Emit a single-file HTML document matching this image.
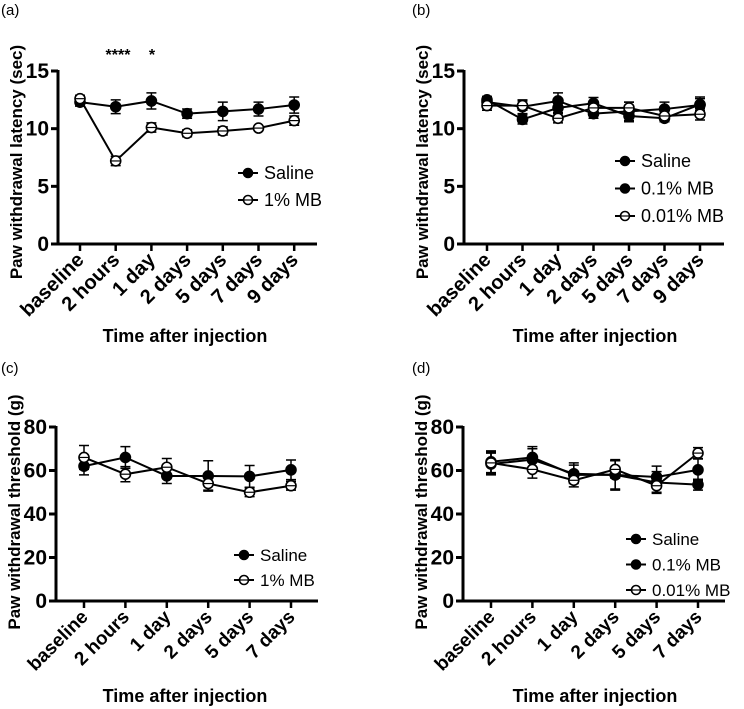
<!DOCTYPE html>
<html><head><meta charset="utf-8"><style>
body{margin:0;background:#fff}
svg{display:block;font-family:"Liberation Sans",Arial,sans-serif}
</style></head><body>
<svg id="fig" width="744" height="709" viewBox="0 0 744 709"></svg>
<script>
const catsA = ["baseline","2 hours","1 day","2 days","5 days","7 days","9 days"];
const catsC = ["baseline","2 hours","1 day","2 days","5 days","7 days"];
const yTicksA = [0,5,10,15];
const yTicksC = [0,20,40,60,80];
const aSaline = [12.3,11.9,12.4,11.3,11.5,11.7,12.05];
const aSalineErr = [0.35,0.6,0.7,0.4,0.8,0.6,0.7];
const aMB1 = [12.6,7.2,10.1,9.6,9.8,10.05,10.7];
const aMB1Err = [0.3,0.4,0.4,0.3,0.35,0.2,0.4];
const bSaline = [12.3,11.9,12.4,11.3,11.5,11.7,12.05];
const bSalineErr = [0.35,0.6,0.7,0.4,0.8,0.6,0.7];
const bMB01 = [12.5,10.8,11.8,12.2,11.1,10.9,12.1];
const bMB01Err = [0.3,0.4,0.4,0.5,0.5,0.3,0.5];
const bMB001 = [12.0,12.0,10.9,11.8,11.8,11.1,11.25];
const bMB001Err = [0.4,0.4,0.4,0.5,0.5,0.4,0.5];
const cSaline = [62,66,57.5,57.5,57.3,60.3];
const cSalineErr = [4,5,3.5,7,5,4.5];
const cMB1 = [66,58.3,61.5,54,50,53];
const cMB1Err = [5.5,3.5,4,3,2,2];
const dSaline = [64,66,58,58,57,60.3];
const dSalineErr = [5,5,5.5,6.5,5,5];
const dMB01 = [63,65,58.5,58,54.5,53.5];
const dMB01Err = [5,5,4,7,5,2.5];
const dMB001 = [63.5,60.5,55.5,60.5,53,68];
const dMB001Err = [5,4,1.5,4,3,2.5];

const NS="http://www.w3.org/2000/svg";
const svg=document.getElementById('fig');
function el(tag,attrs,parent){const e=document.createElementNS(NS,tag);for(const k in attrs)e.setAttribute(k,attrs[k]);(parent||svg).appendChild(e);return e;}

function panel(p){
  const g=el('g',{});
  
  
  const y=v=>p.y0+(v-p.ymin)/(p.ymax-p.ymin)*(p.y1-p.y0);
  const x=i=>p.xs0+i*p.dx;
  const ax=el('path',{d:`M${p.ax} ${p.y1-1}V${p.y0}H${p.axEnd}`,stroke:'#000','stroke-width':3,fill:'none'},g);
  
  
  p.yticks.forEach(t=>{
    el('line',{x1:p.ax-7,x2:p.ax,y1:y(t),y2:y(t),stroke:'#000','stroke-width':3},g);
    const tx=el('text',{x:p.ax-9,y:y(t)+7,'text-anchor':'end','font-size':21,'font-weight':'bold'},g);
    tx.textContent=t;
    
    
  });
  p.cats.forEach((c,i)=>{
    el('line',{x1:x(i),x2:x(i),y1:p.y0,y2:p.y0+7,stroke:'#000','stroke-width':2.5},g);
    const tx=el('text',{x:0,y:0,'text-anchor':'end','font-size':p.fs,'font-weight':'bold',transform:`translate(${x(i)+5},${p.y0+17}) rotate(-45)`},g);
    tx.textContent=c;
    
    
  });
  const yt=el('text',{x:0,y:0,'text-anchor':'middle','font-size':p.yfs,'font-weight':'bold',transform:`translate(${p.ytx},${p.ytY}) rotate(-90)`},g);
  yt.textContent=p.ytitle;
  
  
  const xt=el('text',{x:p.xtX,y:p.xtY,'text-anchor':'middle','font-size':18,'font-weight':'bold'},g);
  xt.textContent='Time after injection';
  
  
  const lab=el('text',{x:p.labX,y:p.labY,'font-size':15},g);
  lab.textContent=p.label;
  
  
  p.series.forEach((s,si)=>{
    const sg=el('g',{},g);
    
    
    const pts=s.vals.map((v,i)=>`${x(i)},${y(v)}`).join(' ');
    el('polyline',{points:pts,fill:'none',stroke:'#000','stroke-width':2},sg);
    s.vals.forEach((v,i)=>{
      const e=s.err[i];
      el('path',{d:`M${x(i)} ${y(v-e)}V${y(v+e)}M${x(i)-5} ${y(v+e)}h10M${x(i)-5} ${y(v-e)}h10`,stroke:'#000','stroke-width':1.5,fill:'none'},sg);
      const m=el('circle',{cx:x(i),cy:y(v),r:5,fill:s.open?'#fff':'#000',stroke:'#000','stroke-width':1.6},sg);
      if(s.open) el('path',{d:`M${x(i)-5} ${y(v)}h10`,stroke:'#000','stroke-width':1.2},sg);
      
      
    });
    const ly=p.legY+si*p.legDy;
    const lg=el('g',{},g);
    
    
    el('line',{x1:p.legX-10,x2:p.legX+10,y1:ly,y2:ly,stroke:'#000','stroke-width':2},lg);
    el('circle',{cx:p.legX,cy:ly,r:4.5,fill:s.open?'#fff':'#000',stroke:'#000','stroke-width':1.6},lg);
    if(s.open) el('path',{d:`M${p.legX-4.5} ${ly}h9`,stroke:'#000','stroke-width':1.2},lg);
    const lt=el('text',{x:p.legX+16,y:ly+6,'font-size':p.legFs},lg);
    lt.textContent=s.label;
  });
  return g;
}

panel({name:'panel-a',label:'(a)',labX:1,labY:15,cats:catsA,yticks:yTicksA,ymin:0,ymax:15,y0:244,y1:71,ax:58,axEnd:317,xs0:80,dx:35.7,fs:20,yfs:17,
  ytitle:'Paw withdrawal latency (sec)',ytx:22,ytY:162,xtX:185,xtY:342,legX:248,legY:173,legDy:27,legFs:18,
  series:[{key:'saline',label:'Saline',vals:aSaline,err:aSalineErr},{key:'1pct-mb',label:'1% MB',vals:aMB1,err:aMB1Err,open:true}]});
panel({name:'panel-b',label:'(b)',labX:412,labY:15,cats:catsA,yticks:yTicksA,ymin:0,ymax:15,y0:244,y1:71,ax:464,axEnd:724,xs0:487,dx:35.5,fs:20,yfs:17,
  ytitle:'Paw withdrawal latency (sec)',ytx:428,ytY:162,xtX:595,xtY:342,legX:625,legY:161,legDy:27.5,legFs:18,
  series:[{key:'saline',label:'Saline',vals:bSaline,err:bSalineErr},{key:'0-1pct-mb',label:'0.1% MB',vals:bMB01,err:bMB01Err},{key:'0-01pct-mb',label:'0.01% MB',vals:bMB001,err:bMB001Err,open:true}]});
panel({name:'panel-c',label:'(c)',labX:1,labY:373,cats:catsC,yticks:yTicksC,ymin:0,ymax:80,y0:601,y1:427,ax:56,axEnd:318,xs0:84,dx:41.4,fs:19,yfs:17,
  ytitle:'Paw withdrawal threshold (g)',ytx:20,ytY:512,xtX:185,xtY:702,legX:244,legY:555,legDy:25,legFs:17,
  series:[{key:'saline',label:'Saline',vals:cSaline,err:cSalineErr},{key:'1pct-mb',label:'1% MB',vals:cMB1,err:cMB1Err,open:true}]});
panel({name:'panel-d',label:'(d)',labX:412,labY:373,cats:catsC,yticks:yTicksC,ymin:0,ymax:80,y0:601,y1:427,ax:463,axEnd:725,xs0:491,dx:41.4,fs:19,yfs:17,
  ytitle:'Paw withdrawal threshold (g)',ytx:427,ytY:512,xtX:595,xtY:702,legX:636,legY:539,legDy:25.5,legFs:17,
  series:[{key:'saline',label:'Saline',vals:dSaline,err:dSalineErr},{key:'0-1pct-mb',label:'0.1% MB',vals:dMB01,err:dMB01Err},{key:'0-01pct-mb',label:'0.01% MB',vals:dMB001,err:dMB001Err,open:true}]});

const s1=el('text',{x:118,y:60,'text-anchor':'middle','font-size':16,'font-weight':'bold'});
s1.textContent='****';


const s2=el('text',{x:152,y:60,'text-anchor':'middle','font-size':16,'font-weight':'bold'});
s2.textContent='*';


</script>
</body></html>
